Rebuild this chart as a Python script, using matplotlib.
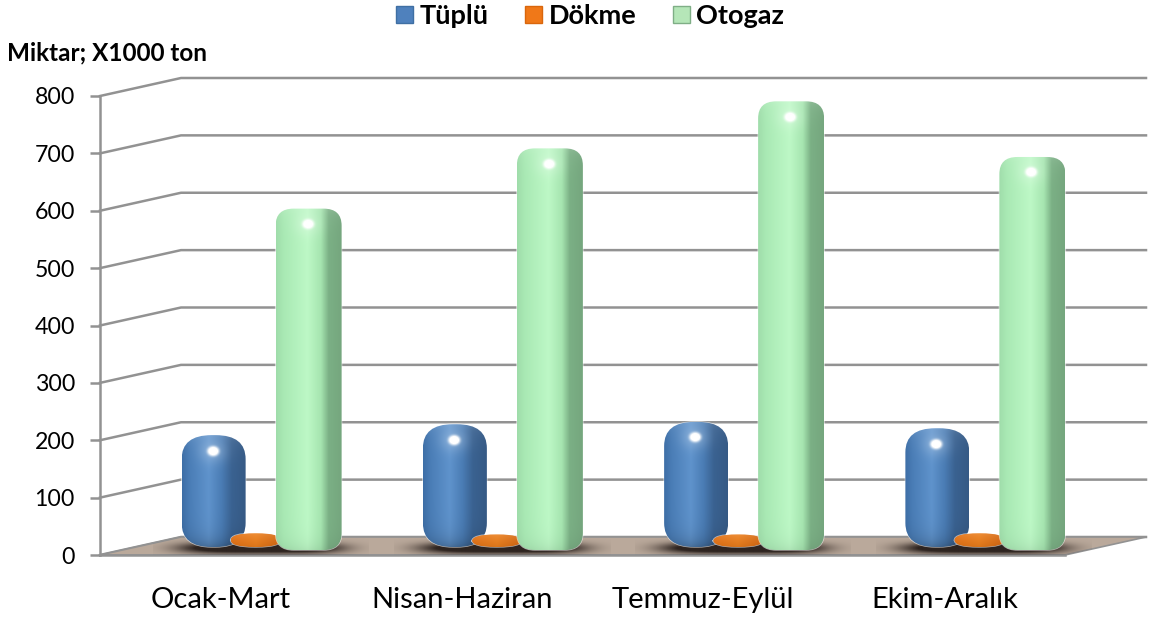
import numpy as np
import matplotlib
matplotlib.use("Agg")
import matplotlib.pyplot as plt
from matplotlib.patches import FancyBboxPatch, Patch, Polygon

plt.rcParams["font.family"] = ["Lato", "DejaVu Sans"]

quarters = ["Ocak-Mart", "Nisan-Haziran", "Temmuz-Eylül", "Ekim-Aralık"]
tuplu = [195, 214, 218, 207]
dokme = [24, 22, 22, 24]
otogaz = [595, 700, 782, 685]
y_ticks = [0, 100, 200, 300, 400, 500, 600, 700, 800]

PX_X = 965 / 4      # pixels per category
PX_Y = 459 / 800    # pixels per value unit
DEPTH_X = 81 / PX_X
DEPTH_Y = 18 / PX_Y
GRID = "#929292"


def gradient_image(stops, nx, ny, rim_top, rim_bottom, spot):
    pos = [s[0] for s in stops]
    cols = np.array([matplotlib.colors.to_rgb(s[1]) for s in stops])
    u = (np.arange(nx) + 0.5) / nx
    row = np.stack([np.interp(u, pos, cols[:, i]) for i in range(3)], axis=1)
    img = np.repeat(row[None, :, :], ny, axis=0)
    d = np.arange(ny) + 0.5
    # lighter rim on top, darker towards the base
    img = img + (rim_top * np.exp(-d / 7))[:, None, None] * (1 - img)
    img = img * (1 - (rim_bottom * np.exp(-(ny - d) / 9))[:, None, None])
    if spot:
        xx, yy = np.meshgrid(np.arange(nx), d)
        r2 = ((xx - nx * 0.48) / 6) ** 2 + ((yy - spot) / 5) ** 2
        g = np.exp(-r2 ** 2) + 0.25 * np.exp(-r2 / 5)
        img = img + np.clip(g, 0, 1)[:, :, None] * (1 - img)
    return np.clip(img, 0, 1)


def draw_bar(ax, xc, width_px, base, value, stops, rx, ry, z, rim_top=0.15, rim_bottom=0.25, spot=16):
    w = width_px / PX_X
    r = rx / PX_X
    aspect = (ry / PX_Y) / r
    patch = FancyBboxPatch((xc - w / 2, base), w, value,
                           boxstyle=f"round,pad=0,rounding_size={r}",
                           mutation_aspect=aspect, facecolor="none",
                           edgecolor=(1, 1, 1, 0.6), lw=1.0, clip_on=False, zorder=z)
    ax.add_patch(patch)
    ny = max(int(value * PX_Y), 4)
    img = gradient_image(stops, int(width_px), ny, rim_top, rim_bottom, spot)
    im = ax.imshow(img, extent=(xc - w / 2, xc + w / 2, base, base + value),
                   aspect="auto", origin="upper", zorder=z + 0.1, interpolation="bilinear")
    im.set_clip_path(patch)
    im.set_clip_box(fig.bbox)


fig = plt.figure(figsize=(11.49, 6.17), dpi=100)
ax = fig.add_axes([100 / 1149, (617 - 555) / 617, 965 / 1149, 459 / 617])

# walls
for v in y_ticks:
    ax.plot([0, DEPTH_X, 4 + DEPTH_X], [v, v + DEPTH_Y, v + DEPTH_Y],
            color=GRID, lw=1.8, clip_on=False, zorder=1)

# floor
floor = Polygon([(0, 0), (4, 0), (4 + DEPTH_X, DEPTH_Y), (DEPTH_X, DEPTH_Y)], closed=True,
                facecolor="#baa99b", edgecolor=GRID, lw=1.2, clip_on=False, zorder=1.5)
ax.add_patch(floor)

# shadows on the floor
sx = np.linspace(-1, 1, 240)
sy = np.linspace(-1, 1, 40)
xx, yy = np.meshgrid(sx, sy)
alpha = np.clip(1.6 * np.exp(-(np.abs(xx) ** 4 / 0.3 + yy ** 2 / 0.3)), 0, 1)
shadow = np.zeros((40, 240, 4))
shadow[..., :3] = matplotlib.colors.to_rgb("#2e2420")
shadow[..., 3] = alpha
for i in range(4):
    cx = i + 0.5 + 40 / PX_X
    im = ax.imshow(shadow, extent=(cx - 108 / PX_X, cx + 108 / PX_X, -3 / PX_Y, 17 / PX_Y),
                   aspect="auto", zorder=2)
    im.set_clip_path(floor)
    im.set_clip_box(fig.bbox)

blue = [(0, "#3d6ea6"), (0.12, "#4a7db6"), (0.42, "#5f93cc"), (0.62, "#4a7cb4"),
        (0.78, "#3a6291"), (1, "#365a85")]
orange = [(0, "#e8700f"), (0.5, "#f27f17"), (1, "#d9660c")]
green = [(0, "#9fdcaa"), (0.12, "#a9e9b4"), (0.48, "#bdf8c6"), (0.68, "#a6e5b0"),
         (0.8, "#7bb085"), (1, "#75a67e")]

for i in range(4):
    c = i + 0.5 + 40 / PX_X
    draw_bar(ax, c - 47 / PX_X, 64, 8 / PX_Y, tuplu[i], blue, 30, 24, 3)
    draw_bar(ax, c - 5 / PX_X, 50, 8 / PX_Y, dokme[i], orange, 24, 7, 4, rim_bottom=0.1, spot=0)
    draw_bar(ax, c + 48 / PX_X, 66, 5 / PX_Y, otogaz[i], green, 18, 17, 5, rim_bottom=0.08)

ax.set_xlim(0, 4)
ax.set_ylim(0, 800)
ax.patch.set_visible(False)
for s in ["top", "right"]:
    ax.spines[s].set_visible(False)
for s in ["left", "bottom"]:
    ax.spines[s].set_color(GRID)
    ax.spines[s].set_linewidth(1.8)
    ax.spines[s].set_zorder(1.6)

ax.set_yticks(y_ticks)
ax.tick_params(axis="y", length=7, width=1.8, color=GRID, labelsize=16.7, pad=11)
ax.set_xticks([i + 0.5 for i in range(4)])
ax.set_xticklabels(quarters)
ax.tick_params(axis="x", length=0, labelsize=21, pad=23)

fig.text(7 / 1149, 1 - 53 / 617, "Miktar; X1000 ton", fontsize=17.5, fontweight="bold",
         va="center", ha="left")

handles = [Patch(facecolor="#4f81bd", edgecolor="#3f6fa3", label="Tüplü"),
           Patch(facecolor="#f07818", edgecolor="#d9660c", label="Dökme"),
           Patch(facecolor="#b5e6b8", edgecolor="#7fae86", label="Otogaz")]
fig.legend(handles=handles, ncol=3, loc="center", bbox_to_anchor=(590 / 1149, 1 - 16 / 617),
           frameon=False, prop={"weight": "bold", "size": 19.5}, handlelength=0.62,
           handleheight=0.62, handletextpad=0.25, columnspacing=1.35, borderpad=0)

fig.savefig("out.png", dpi=100)
